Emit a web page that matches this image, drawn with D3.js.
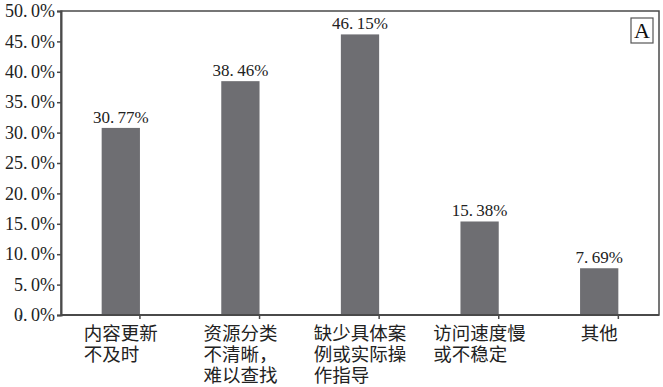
<!DOCTYPE html>
<html>
<head>
<meta charset="utf-8">
<script src="https://cdn.jsdelivr.net/npm/d3@7"></script>
<style>
  body { margin: 0; background: #fff; }
  svg { display: block; }
</style>
</head>
<body>
<div id="visualization"></div>
<script>
// chart data
const categories = ["内容更新不及时", "资源分类不清晰，难以查找", "缺少具体案例或实际操作指导", "访问速度慢或不稳定", "其他"];
const categoryLines = [["内容更新", "不及时"], ["资源分类", "不清晰，", "难以查找"], ["缺少具体案", "例或实际操", "作指导"], ["访问速度慢", "或不稳定"], ["其他"]];
const values = [30.77, 38.46, 46.15, 15.38, 7.69];
const yTicks = [0, 5, 10, 15, 20, 25, 30, 35, 40, 45, 50];
const panelLabel = "A";

const width = 663, height = 387;
const margin = { top: 11, right: 4, bottom: 72, left: 61 };
const plotW = width - margin.left - margin.right;
const plotH = height - margin.top - margin.bottom;

const numFont = "'Liberation Serif', 'DejaVu Serif', serif";
const cjkFont = "'Noto Sans CJK SC', sans-serif";
const axisColor = "#4a4a4a";
const textColor = "#222";

const svg = d3.select("#visualization")
    .append("svg")
        .attr("width", width)
        .attr("height", height);

const g = svg.append("g")
    .attr("transform", `translate(${margin.left},${margin.top})`);

// scales
const x = d3.scaleBand()
    .domain(categories)
    .range([0, plotW])
    .paddingInner(0.68)
    .paddingOuter(0.34);

const y = d3.scaleLinear()
    .domain([0, 50])
    .range([plotH, 0]);

// "50. 0%" style, with a narrow gap after the point
const fmtTick = d => d.toFixed(1).replace(".", ".\u2009") + "%";
const fmtVal = d => d.toFixed(2).replace(".", ".\u2009") + "%";

// frame (top and right)
g.append("rect")
    .attr("x", 0).attr("y", 0)
    .attr("width", plotW).attr("height", plotH)
    .attr("fill", "none")
    .attr("stroke", axisColor)
    .attr("stroke-width", 1.5);

// bars
g.selectAll(".bar")
    .data(values)
    .join("rect")
        .attr("class", "bar")
        .attr("x", (d, i) => x(categories[i]))
        .attr("y", d => y(d))
        .attr("width", x.bandwidth())
        .attr("height", d => plotH - y(d))
        .attr("fill", "#6e6e72");

// value labels
g.selectAll(".val")
    .data(values)
    .join("text")
        .attr("class", "val")
        .attr("x", (d, i) => x(categories[i]) + x.bandwidth() / 2)
        .attr("y", d => y(d) - 5)
        .attr("text-anchor", "middle")
        .attr("font-family", numFont)
        .attr("font-size", 17)
        .attr("fill", textColor)
        .text(fmtVal);

// y axis
const yAxis = g.append("g")
    .call(d3.axisLeft(y).tickValues(yTicks).tickFormat(fmtTick).tickSize(4).tickPadding(2));
yAxis.select(".domain").attr("stroke", axisColor).attr("stroke-width", 2);
yAxis.selectAll(".tick line").attr("stroke", axisColor).attr("stroke-width", 1.5);
yAxis.selectAll(".tick text")
    .attr("font-family", numFont)
    .attr("font-size", 18)
    .attr("fill", textColor);

// x axis: baseline with ticks between categories
const xAxis = g.append("g")
    .attr("transform", `translate(0,${plotH})`);
xAxis.append("line")
    .attr("x1", 0).attr("x2", plotW)
    .attr("stroke", axisColor).attr("stroke-width", 2);
const step = x.step();
const bounds = d3.range(categories.length + 1).map(i => x(categories[0]) - x.paddingOuter() * step - (x.paddingInner() * step) / 2 + i * step);
xAxis.selectAll(".xtick")
    .data(bounds)
    .join("line")
        .attr("class", "xtick")
        .attr("x1", d => d).attr("x2", d => d)
        .attr("y1", 0).attr("y2", 4)
        .attr("stroke", axisColor).attr("stroke-width", 1.5);

// category labels (multi-line, left aligned, block centred under bar)
const catFont = 18.5;
const lineGap = 21;
const labels = xAxis.selectAll(".cat")
    .data(categoryLines)
    .join("text")
        .attr("class", "cat")
        .attr("font-family", cjkFont)
        .attr("font-size", catFont)
        .attr("fill", textColor);
labels.each(function(lines, i) {
    const maxLen = d3.max(lines, l => l.length);
    const cx = x(categories[i]) + x.bandwidth() / 2;
    const left = cx - maxLen * catFont / 2;
    d3.select(this).selectAll("tspan")
        .data(lines)
        .join("tspan")
            .attr("x", left)
            .attr("y", (l, j) => 25 + j * lineGap)
            .text(l => l);
});

// panel label "A" in a box
const boxW = 22, boxH = 25;
const panel = g.append("g")
    .attr("transform", `translate(${plotW - 28},${7})`);
panel.append("rect")
    .attr("width", boxW).attr("height", boxH)
    .attr("fill", "#fff")
    .attr("stroke", "#555")
    .attr("stroke-width", 1.2);
panel.append("text")
    .attr("x", boxW / 2).attr("y", boxH - 5)
    .attr("text-anchor", "middle")
    .attr("font-family", numFont)
    .attr("font-size", 22)
    .attr("fill", "#111")
    .text(panelLabel);
</script>
</body>
</html>
